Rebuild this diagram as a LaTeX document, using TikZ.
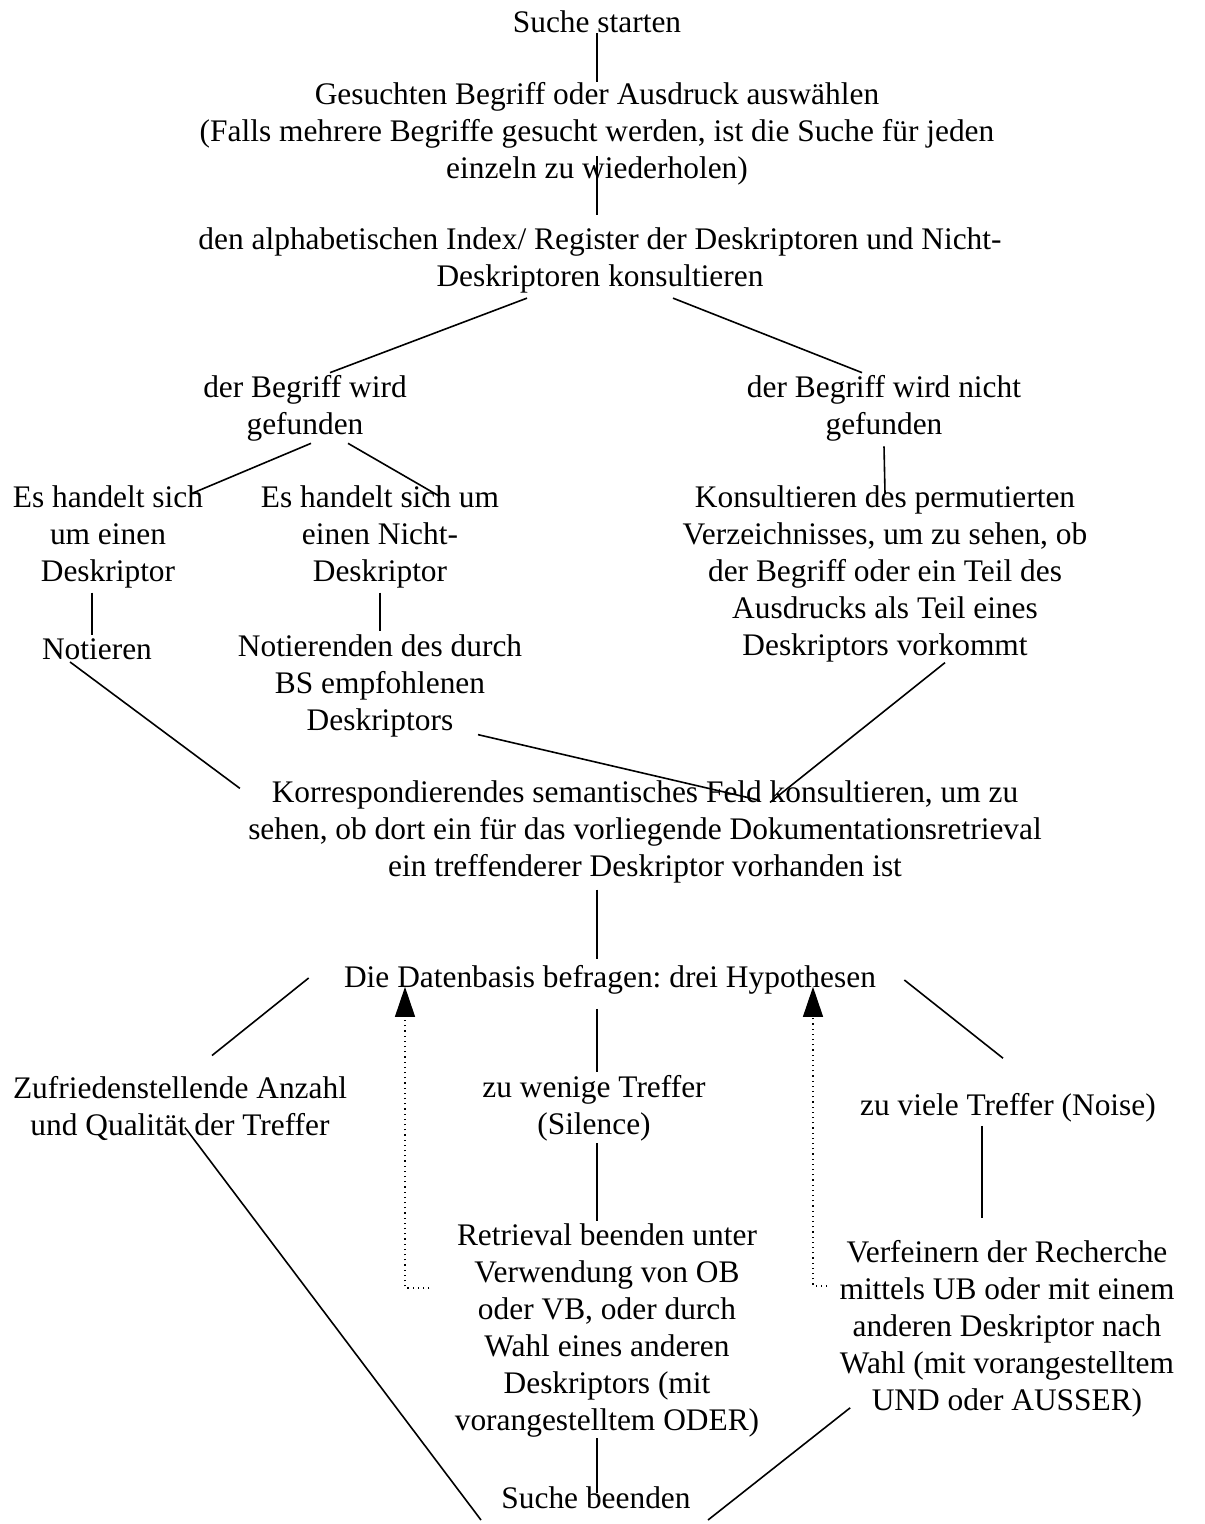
\documentclass[tikz,border=0pt]{standalone}
\usepackage{fontspec}
\setmainfont{Liberation Serif}
\usetikzlibrary{calc,arrows.meta}
\frenchspacing
\tikzset{
  stage/.style = {align=center, inner sep=0pt,
                  font=\fontsize{15.7pt}{18.5pt}\selectfont},
  link/.style  = {draw, line width=0.8pt},
  retry/.style = {draw, dotted, line width=0.6pt,
                  -{Triangle[length=15pt,width=10pt]}}
}

\begin{document}
\begin{tikzpicture}[x=0.5pt, y=-0.5pt]
\useasboundingbox (0,0) rectangle (1204,1524);

  \node [stage] (start)    at (597,22)   {Suche starten};
  \node [stage] (term)     at (597,134)  {Gesuchten Begriff oder Ausdruck auswählen\\(Falls mehrere Begriffe gesucht werden, ist die Suche für jeden\\einzeln zu wiederholen)};
  \node [stage] (index)    at (600,260)  {den alphabetischen Index/ Register der Deskriptoren und Nicht-\\Deskriptoren konsultieren};
  \node [stage] (found)    at (305,408)  {der Begriff wird\\gefunden};
  \node [stage] (notfound) at (884,408)  {der Begriff wird nicht\\gefunden};
  \node [stage] (desc)     at (108,537)  {Es handelt sich\\um einen\\Deskriptor};
  \node [stage] (nondesc)  at (380,537)  {Es handelt sich um\\einen Nicht-\\Deskriptor};
  \node [stage] (perm)     at (885,574)  {Konsultieren des permutierten\\Verzeichnisses, um zu sehen, ob\\der Begriff oder ein Teil des\\Ausdrucks als Teil eines\\Deskriptors vorkommt};
  \node [stage] (note)     at (97,649)   {Notieren};
  \node [stage] (notebs)   at (380,686)  {Notierenden des durch\\BS empfohlenen\\Deskriptors};
  \node [stage] (field)    at (645,832)  {Korrespondierendes semantisches Feld konsultieren, um zu\\sehen, ob dort ein für das vorliegende Dokumentationsretrieval\\ein treffenderer Deskriptor vorhanden ist};
  \node [stage] (query)    at (610,980)  {Die Datenbasis befragen: drei Hypothesen};
  \node [stage] (good)     at (180,1108) {Zufriedenstellende Anzahl\\und Qualität der Treffer};
  \node [stage] (few)      at (594,1108) {zu wenige Treffer\\(Silence)};
  \node [stage] (many)     at (1008,1108){zu viele Treffer (Noise)};
  \node [stage] (widen)    at (607,1330) {Retrieval beenden unter\\Verwendung von OB\\oder VB, oder durch\\Wahl eines anderen\\Deskriptors (mit\\vorangestelltem ODER)};
  \node [stage] (refine)   at (1007,1329){Verfeinern der Recherche\\mittels UB oder mit einem\\anderen Deskriptor nach\\Wahl (mit vorangestelltem\\UND oder AUSSER)};
  \node [stage] (stop)     at (596,1498) {Suche beenden};

  % upper part
  \path [link] (start.south) -- (term.north);
  \path [link] ($(term.south)+(0,-30)$) -- ($(index.north)+(-3,-12)$);
  \path [link] ($(index.south)+(-73,5)$) -- ($(found.north)+(25,-2)$);
  \path [link] ($(index.south)+(73,5)$) -- ($(notfound.north)+(-22,-2)$);
  \path [link] ($(notfound.south)+(0,5)$) -- ($(perm.north)+(0,8)$);
  \path [link] ($(found.south)+(6,2)$) -- ($(desc.north)+(84,8)$);
  \path [link] ($(found.south)+(43,2)$) -- ($(nondesc.north)+(58,10)$);
  \path [link] ($(desc.south)+(-16,4)$) -- ($(note.north)+(-5,-3)$);
  \path [link] ($(nondesc.south)+(0,4)$) -- ($(notebs.north)+(0,-3)$);
  \path [link] ($(note.south)+(-27,2)$) -- ($(field.north west)+(-8,8)$);
  \path [link] ($(notebs.south)+(98,-3)$) -- ($(field.north)+(115,20)$);
  \path [link] ($(perm.south)+(60,0)$) -- ($(field.north)+(125,22)$);

  % lower part
  \path [link] ($(field.south)+(-48,6)$) -- ($(query.north)+(-13,-6)$);
  \path [link] ($(query.west)+(-35,-2)$) -- ($(good.north)+(32,-20)$);
  \path [link] ($(query.south)+(-13,14)$) -- ($(few.north)+(3,-3)$);
  \path [link] ($(query.east)+(28,0)$) -- ($(many.north)+(-5,-35)$);
  \path [link] ($(good.south)+(5,-13)$) -- ($(stop.west)+(-20,22)$);
  \path [link] ($(few.south)+(3,2)$) -- ($(widen.north)+(-10,-2)$);
  \path [link] ($(many.south)+(-26,3)$) -- ($(refine.north)+(-25,-22)$);
  \path [link] ($(widen.south)+(-10,1)$) -- ($(stop.north)+(1,6)$);
  \path [link] ($(refine.south west)+(11,-10)$) -- ($(stop.east)+(17,22)$);

  % back to the query
  \draw [retry] ($(widen.west)+(-25,-42)$) -| ($(query.south)+(-205,-8)$);
  \draw [retry] ($(refine.west)+(-12,-43)$) -| ($(query.south)+(203,-8)$);
\end{tikzpicture}
\end{document}
